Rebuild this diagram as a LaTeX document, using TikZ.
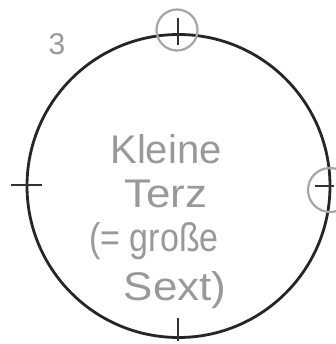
\documentclass[tikz,border=0pt]{standalone}
\usepackage{fontspec}
\setmainfont{Liberation Sans}
\tikzset{
  outline/.style={line width=2.8pt, draw=black!85},
  tick/.style={line width=1.4pt, draw=black!80},
  marker/.style={line width=2.2pt, draw=black!35, circle, inner sep=0pt},
  label/.style={text=black!40, font=\fontsize{40}{40}\selectfont, inner sep=0pt},
}
\begin{document}
\begin{tikzpicture}[x=1pt,y=-1pt]
\useasboundingbox (0,0) rectangle (335,344);
\draw[outline] (178.5,186) circle [radius=151.5];
% ticks
\coordinate (t1) at (178,18); \coordinate (t2) at (178,45);
\draw[tick] (t1) -- (t2);
\coordinate (b1) at (178,318); \coordinate (b2) at (178,341);
\draw[tick] (b1) -- (b2);
\coordinate (l1) at (11,185); \coordinate (l2) at (42,185);
\draw[tick] (l1) -- (l2);
\coordinate (r1) at (315,186); \coordinate (r2) at (334,186);
\draw[tick] (r1) -- (r2);
% marker circles
\node[marker, minimum size=41pt] (mt) at (177,30) {};
\node[marker, minimum size=44pt] (mr) at (330,190) {};
% texts
\node[text=black!40, font=\fontsize{30}{30}\selectfont, inner sep=0pt] (n3) at (57,44) {3};
\node[label] (k) at (166,149) {Kleine};
\node[label] (t) at (166,194) {\scalebox{1.1}[1]{Terz}};
\node[label] (g) at (154,241) {\scalebox{0.85}[1]{(= große}};
\node[label] (s) at (175,290) {\scalebox{1.1}[1]{Sext)}};
\end{tikzpicture}
\end{document}
